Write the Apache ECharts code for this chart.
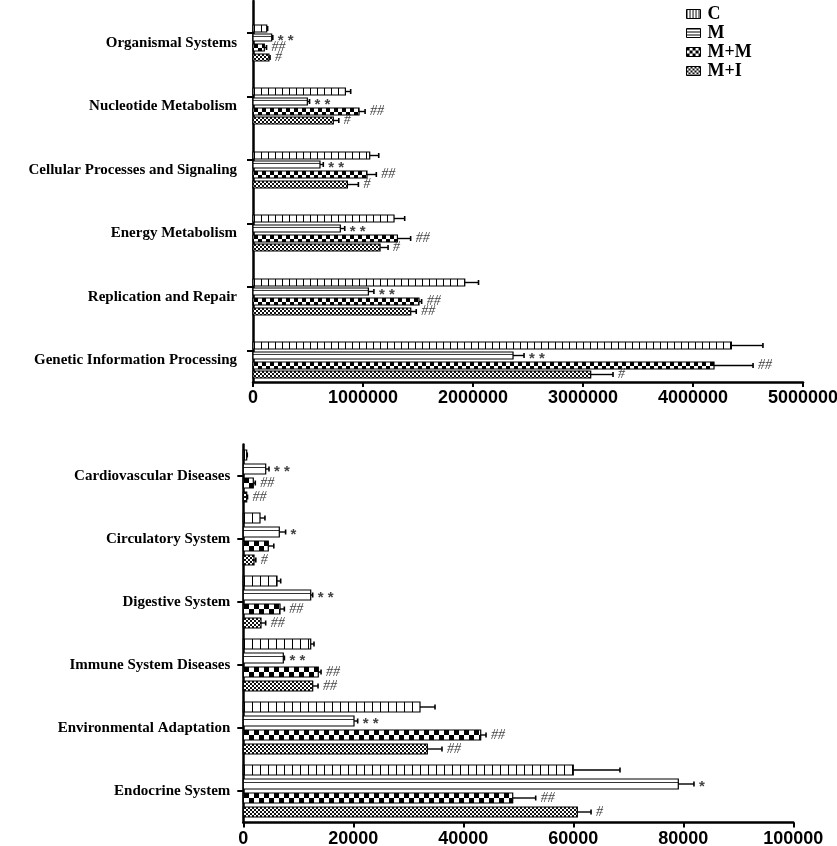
<!DOCTYPE html>
<html><head><meta charset="utf-8">
<script src="https://cdn.jsdelivr.net/npm/echarts@6/dist/echarts.min.js"></script>
<style>html,body{margin:0;padding:0;background:#fff}#chart{width:837px;height:846px}</style>
</head><body><div id="chart"></div>
<script>
// ---------------- data ----------------
const groups = ['C', 'M', 'M+M', 'M+I'];

const topCategories = ['Organismal Systems', 'Nucleotide Metabolism', 'Cellular Processes and Signaling',
  'Energy Metabolism', 'Replication and Repair', 'Genetic Information Processing'];
const topC    = [125000, 840000, 1061000, 1282000, 1925000, 4349000];
const topCErr = [8000, 48000, 82000, 97000, 125000, 287000];
const topM    = [170000, 494000, 609000, 794000, 1049000, 2364000];
const topMErr = [10000, 20000, 30000, 40000, 50000, 100000];
const topMM    = [103000, 964000, 1036000, 1313000, 1509000, 4191000];
const topMMErr = [20000, 55000, 85000, 120000, 24000, 355000];
const topMI    = [145000, 730000, 858000, 1155000, 1434000, 3070000];
const topMIErr = [10000, 50000, 100000, 73000, 50000, 203000];
const topCSig  = ['', '', '', '', '', ''];
const topMSig  = ['**', '**', '**', '**', '**', '**'];
const topMMSig = ['##', '##', '##', '##', '##', '##'];
const topMISig = ['#', '#', '#', '#', '##', '#'];
const topTickLabels = [0, 1000000, 2000000, 3000000, 4000000, 5000000];

const botCategories = ['Cardiovascular Diseases', 'Circulatory System', 'Digestive System',
  'Immune System Diseases', 'Environmental Adaptation', 'Endocrine System'];
const botC    = [620, 3036, 6127, 12255, 32127, 60000];
const botCErr = [100, 900, 670, 600, 2730, 8490];
const botM    = [4073, 6545, 12255, 7273, 20127, 79090];
const botMErr = [600, 1150, 360, 200, 670, 2850];
const botMM    = [1818, 4545, 6673, 13636, 43164, 48982];
const botMMErr = [360, 1000, 790, 500, 970, 4180];
const botMI    = [620, 1945, 3218, 12618, 33455, 60727];
const botMIErr = [150, 330, 850, 970, 2670, 2500];
const botCSig  = ['', '', '', '', '', ''];
const botMSig  = ['**', '*', '**', '**', '**', '*'];
const botMMSig = ['##', '', '##', '##', '##', '##'];
const botMISig = ['##', '#', '##', '##', '##', '#'];
const botTickLabels = [0, 20000, 40000, 60000, 80000, 100000];

// ---------------- patterns ----------------
function cvs(w, h, draw) {
  const c = document.createElement('canvas');
  c.width = w; c.height = h;
  const g = c.getContext('2d');
  g.fillStyle = '#fff'; g.fillRect(0, 0, w, h);
  draw(g);
  return c;
}
function vLines(period) { return cvs(period, 2, g => { g.fillStyle = '#000'; g.fillRect(0, 0, 1, 2); }); }
function hLines(period) { return cvs(2, period, g => { g.fillStyle = '#000'; g.fillRect(0, 0, 2, 1); }); }
function checker(cw, h) {
  const t = Math.ceil(h / 2);
  return cvs(cw * 2, h, g => { g.fillStyle = '#000'; g.fillRect(0, 0, cw, t); g.fillRect(cw, t, cw, h - t); });
}
function fine(s) { return cvs(2 * s, 2 * s, g => { g.fillStyle = '#111'; g.fillRect(0, 0, s, s); g.fillRect(s, s, s, s); }); }

const geoTop = { barH: 7, pitch: 9.7, cellC: 7, cellMM: 4 };
const geoBot = { barH: 10, pitch: 13.7, cellC: 8, cellMM: 5 };
function tiles(geo) {
  return [vLines(geo.cellC), null, checker(geo.cellMM, geo.barH), fine(2)];
}
const tilesTop = tiles(geoTop), tilesBot = tiles(geoBot);

const legendImgs = [vLines(3), hLines(3), checker(3, 6), fine(2)];

function makeRender(gIdx, sigs, geo, tl) {
  return function (params, api) {
    const i = params.dataIndex;
    const v = api.value(0), c = api.value(1), e = api.value(2);
    const base = api.coord([0, c]);
    const end = api.coord([v, c]);
    const eEnd = api.coord([v + e, c]);
    const h = geo.barH;
    const yc = base[1] + (gIdx - 1.5) * geo.pitch;
    const y0 = Math.round(yc - h / 2);
    const ym = y0 + h / 2;
    const x0 = base[0], x1 = end[0], xe = eEnd[0];
    const fill = tl[gIdx] ? { image: tl[gIdx], repeat: 'repeat', x: Math.round(x0) + 1, y: y0 } : '#fff';
    const ch = [];
    ch.push({ type: 'rect', shape: { x: x0, y: y0, width: x1 - x0, height: h },
      style: { fill: fill, stroke: '#000', lineWidth: 1.2 } });
    if (gIdx === 1) {
      ch.push({ type: 'line', shape: { x1: x0, y1: y0 + h * 0.35, x2: x1, y2: y0 + h * 0.35 },
        style: { stroke: '#000', lineWidth: 0.8 } });
    }
    ch.push({ type: 'line', shape: { x1: x1, y1: ym, x2: xe, y2: ym }, style: { stroke: '#000', lineWidth: 1.4 } });
    ch.push({ type: 'line', shape: { x1: xe, y1: ym - 2.5, x2: xe, y2: ym + 2.5 }, style: { stroke: '#000', lineWidth: 1.6 } });
    const s = sigs[i];
    if (s) {
      const star = s.indexOf('*') >= 0;
      ch.push({ type: 'text', style: {
        text: star ? s.split('').join(' ') : s,
        x: Math.max(x1, xe) + 5, y: ym + (star ? 3 : 0),
        verticalAlign: 'middle', align: 'left',
        fill: '#444',
        font: star ? 'bold 15px "Liberation Sans"' : 'italic 14px "Liberation Serif"'
      } });
    }
    return { type: 'group', children: ch };
  };
}

function seriesSet(vals, errs, sigs, geo, tl, xIdx, yIdx) {
  return groups.map((name, g) => ({
    type: 'custom', name: name, xAxisIndex: xIdx, yAxisIndex: yIdx,
    itemStyle: { color: { image: legendImgs[g], repeat: 'repeat' }, borderColor: '#000', borderWidth: 1 },
    renderItem: makeRender(g, sigs[g], geo, tl),
    encode: { x: 0, y: 1 },
    data: vals[g].map((v, i) => [v, i, errs[g][i]])
  }));
}

const axisLineStyle = { color: '#000', width: 2.5 };
const xLabel = (m) => ({ fontFamily: 'Liberation Sans', fontWeight: 'bold', fontSize: 18, color: '#000', margin: m,
  formatter: (v) => String(v) });
const catLabel = (m) => ({ fontFamily: 'Liberation Serif', fontWeight: 'bold', fontSize: 15, color: '#000', margin: m });

const option = {
  animation: false,
  backgroundColor: '#fff',
  legend: {
    orient: 'vertical', left: 686, top: 5, padding: 0, itemWidth: 14, itemHeight: 9, itemGap: 1,
    icon: 'rect',
    textStyle: { fontFamily: 'Liberation Serif', fontWeight: 'bold', fontSize: 18, color: '#000', padding: [0, 0, 0, 2] },
    itemStyle: { borderColor: '#000', borderWidth: 1 },
    data: groups.map((g, k) => ({ name: g, itemStyle: { color: { image: legendImgs[k], repeat: 'repeat' }, borderColor: '#000', borderWidth: 1 } }))
  },
  grid: [
    { left: 253, width: 550, top: 1, height: 381, outerBoundsMode: 'none' },
    { left: 253, width: 550, top: 11, height: 381, outerBoundsMode: 'none' },
    { left: 243.3, width: 550, top: 444.5, height: 378, outerBoundsMode: 'none' }
  ],
  xAxis: [
    { gridIndex: 0, type: 'value', min: topTickLabels[0], max: topTickLabels[topTickLabels.length - 1],
      interval: topTickLabels[1] - topTickLabels[0],
      axisLine: { show: true, lineStyle: axisLineStyle }, axisTick: { show: true, length: 5, lineStyle: { color: '#000', width: 2 } },
      splitLine: { show: false }, axisLabel: xLabel(7) },
    { gridIndex: 1, type: 'value', min: topTickLabels[0], max: topTickLabels[topTickLabels.length - 1], show: false },
    { gridIndex: 2, type: 'value', min: botTickLabels[0], max: botTickLabels[botTickLabels.length - 1],
      interval: botTickLabels[1] - botTickLabels[0],
      axisLine: { show: true, lineStyle: axisLineStyle }, axisTick: { show: true, length: 5, lineStyle: { color: '#000', width: 2 } },
      splitLine: { show: false }, axisLabel: xLabel(8) }
  ],
  yAxis: [
    { gridIndex: 0, type: 'category', inverse: true, data: topCategories,
      axisLine: { show: true, lineStyle: axisLineStyle },
      axisTick: { show: true, alignWithLabel: true, length: 6, lineStyle: { color: '#000', width: 2 } },
      axisLabel: { show: false } },
    { gridIndex: 1, type: 'category', inverse: true, data: topCategories,
      axisLine: { show: false }, axisTick: { show: false }, axisLabel: catLabel(16) },
    { gridIndex: 2, type: 'category', inverse: true, data: botCategories,
      axisLine: { show: true, lineStyle: axisLineStyle },
      axisTick: { show: true, alignWithLabel: true, length: 6, lineStyle: { color: '#000', width: 2 } },
      axisLabel: catLabel(13) }
  ],
  series: [].concat(
    seriesSet([topC, topM, topMM, topMI], [topCErr, topMErr, topMMErr, topMIErr],
      [topCSig, topMSig, topMMSig, topMISig], geoTop, tilesTop, 1, 1),
    seriesSet([botC, botM, botMM, botMI], [botCErr, botMErr, botMMErr, botMIErr],
      [botCSig, botMSig, botMMSig, botMISig], geoBot, tilesBot, 2, 2)
  )
};
const chart = echarts.init(document.getElementById('chart'));
chart.setOption(option);
</script>
</body></html>
